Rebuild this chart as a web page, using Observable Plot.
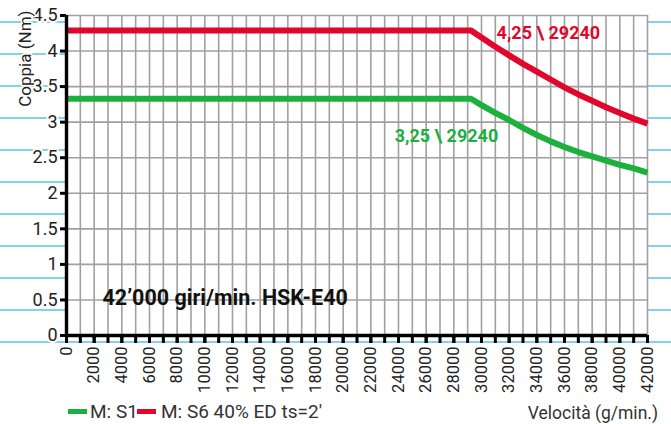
<!DOCTYPE html>
<html>
<head>
<meta charset="utf-8">
<script src="https://cdn.jsdelivr.net/npm/d3@7"></script>
<script src="https://cdn.jsdelivr.net/npm/@observablehq/plot@0.6"></script>
<style>
  html, body { margin: 0; padding: 0; background: white; }
  #wrap { position: relative; width: 671px; height: 424px; overflow: hidden; font-family: Roboto, sans-serif; }
  #paper { position: absolute; left: 0; top: 0; width: 671px; height: 344px;
    background: repeating-linear-gradient(to bottom, transparent 0px, transparent 21.5px, #86cff0 21.5px, #86cff0 22.7px, transparent 22.7px, transparent 32px); }
  #chart { position: relative; }
  #chart svg { display: block; background: transparent; }
  #foot { position: relative; height: 24px; color: #333; font-size: 19px; }
  .sw { position: absolute; top: 9px; width: 19px; height: 5px; }
  .lt { position: absolute; top: 0px; line-height: 24px; white-space: nowrap; }
</style>
</head>
<body>
<div id="wrap">
  <div id="paper"></div>
  <div id="chart"></div>
  <div id="foot"></div>
</div>
<script>
// ---- data ----
const speed    = [0, 29240, 30000, 31000, 32000, 33000, 34000, 35000, 36000, 37000, 38000, 39000, 40000, 41000, 42000];
const torqueS1 = [3.33, 3.33, 3.24, 3.13, 3.03, 2.92, 2.82, 2.73, 2.65, 2.58, 2.52, 2.46, 2.40, 2.35, 2.29];
const torqueS6 = [4.29, 4.29, 4.19, 4.06, 3.94, 3.82, 3.71, 3.60, 3.49, 3.39, 3.30, 3.21, 3.13, 3.05, 2.98];
const seriesNames = ["M: S1", "M: S6 40% ED ts=2'"];
const seriesColors = ["#1cb03c", "#e2062c"];
const xTickLabels = [0, 2000, 4000, 6000, 8000, 10000, 12000, 14000, 16000, 18000, 20000, 22000, 24000, 26000, 28000, 30000, 32000, 34000, 36000, 38000, 40000, 42000];
const xMinorTicks = [0,1000,2000,3000,4000,5000,6000,7000,8000,9000,10000,11000,12000,13000,14000,15000,16000,17000,18000,19000,20000,21000,22000,23000,24000,25000,26000,27000,28000,29000,30000,31000,32000,33000,34000,35000,36000,37000,38000,39000,40000,41000,42000];
const yTickLabels = [0, 0.5, 1, 1.5, 2, 2.5, 3, 3.5, 4, 4.5];
const annotRed = "4,25 \\ 29240";
const annotGreen = "3,25 \\ 29240";
const annotTitle = "42\u2019000 giri/min. HSK-E40";
const yLabel = "Coppia (Nm)";
const xLabel = "Velocità (g/min.)";

const rows = [];
speed.forEach((s, i) => rows.push({speed: s, torque: torqueS1[i], series: seriesNames[0]}));
speed.forEach((s, i) => rows.push({speed: s, torque: torqueS6[i], series: seriesNames[1]}));

const chart = Plot.plot({
  width: 671,
  height: 400,
  marginTop: 15,
  marginBottom: 65,
  marginLeft: 66,
  marginRight: 24,
  style: {fontFamily: "Roboto, sans-serif", fontSize: "16px", color: "#222", background: "transparent", overflow: "visible"},
  x: {domain: [0, 42000]},
  y: {domain: [0, 4.5]},
  color: {domain: seriesNames, range: seriesColors},
  marks: [
    Plot.frame({fill: "white", stroke: null}),
    Plot.gridX(xMinorTicks, {stroke: "#a0a0a0", strokeOpacity: 1, strokeWidth: 1.6}),
    Plot.gridY(yTickLabels, {stroke: "#a0a0a0", strokeOpacity: 1, strokeWidth: 1.6}),
    Plot.line(rows, {x: "speed", y: "torque", z: "series", stroke: "series", strokeWidth: 6, strokeLinejoin: "round", strokeLinecap: "butt"}),
    Plot.text([annotRed], {x: 31090, y: 4.25, text: d => d, fill: seriesColors[1], fontWeight: "bold", fontSize: 18, textAnchor: "start"}),
    Plot.text([annotGreen], {x: 23720, y: 2.80, text: d => d, fill: seriesColors[0], fontWeight: "bold", fontSize: 18, textAnchor: "start"}),
    Plot.text([annotTitle], {x: 2600, y: 0.52, text: d => d, fill: "#111", fontWeight: "bold", fontSize: 21.5, textAnchor: "start"}),
    Plot.ruleX([0], {stroke: "black", strokeWidth: 3.4}),
    Plot.ruleY([0], {stroke: "black", strokeWidth: 3.4}),
    Plot.axisX(xMinorTicks, {tickSize: 8, stroke: "black", strokeWidth: 3, text: null, label: null}),
    Plot.axisX(xTickLabels, {tickSize: 8, stroke: "black", strokeWidth: 3, tickRotate: -90, tickPadding: 3, tickFormat: d => String(d), fontSize: 16.5, fill: "#222", label: null}),
    Plot.axisY(yTickLabels, {tickSize: 6, stroke: "black", strokeWidth: 3, tickPadding: 3, tickFormat: d => String(d), fontSize: 18, fill: "#222", textStroke: "white", textStrokeWidth: 4, label: null}),
    Plot.text([yLabel], {frameAnchor: "top-left", dx: -48, dy: -5, rotate: -90, textAnchor: "end", text: d => d, fontSize: 17, fill: "#222", stroke: "white", strokeWidth: 3})
  ]
});
document.getElementById("chart").appendChild(chart);

// legend + x label below the svg
const foot = document.getElementById("foot");
const items = [
  {cls: "sw", left: 68, color: seriesColors[0]},
  {cls: "lt", left: 90, text: seriesNames[0]},
  {cls: "sw", left: 137, color: seriesColors[1]},
  {cls: "lt", left: 161, text: seriesNames[1]}
];
items.forEach(it => {
  const el = document.createElement(it.cls === "sw" ? "div" : "span");
  el.className = it.cls;
  el.style.left = it.left + "px";
  if (it.color) el.style.background = it.color;
  if (it.text) el.textContent = it.text;
  foot.appendChild(el);
});
const xl = document.createElement("span");
xl.className = "lt";
xl.style.right = "13px";
xl.style.fontSize = "17.5px";
xl.style.top = "1px";
xl.textContent = xLabel;
foot.appendChild(xl);
</script>
</body>
</html>
